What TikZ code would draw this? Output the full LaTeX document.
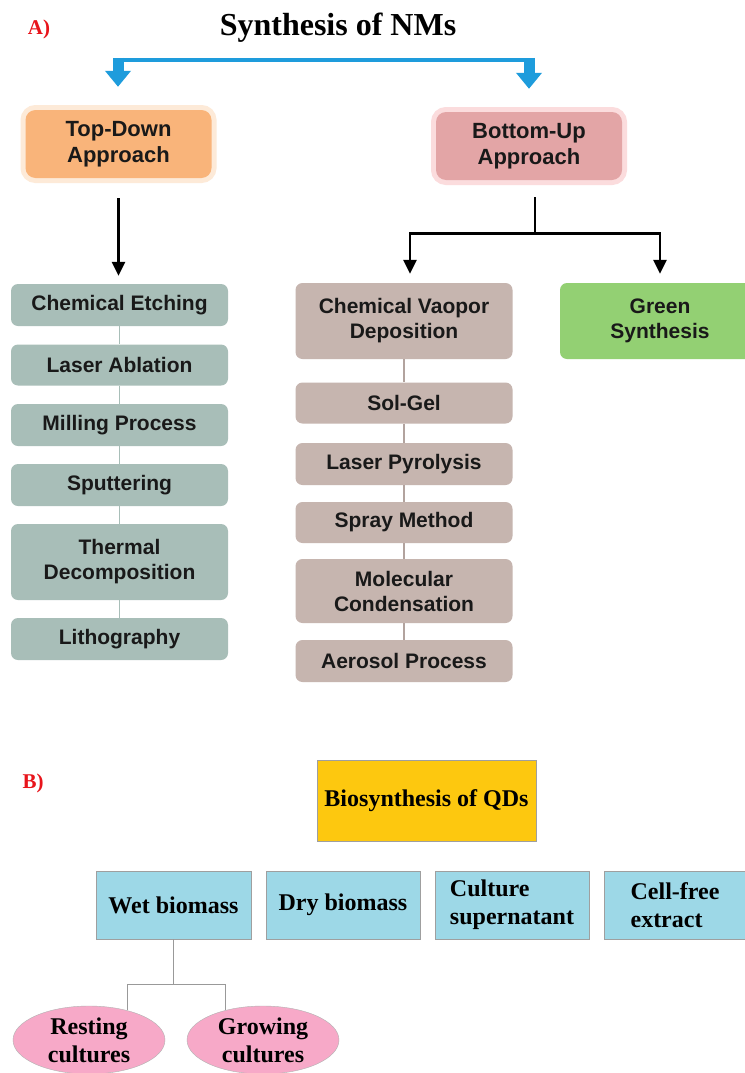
\documentclass[tikz,border=0pt]{standalone}
\usepackage{fontspec}
\setmainfont{Liberation Serif}
\setsansfont{Liberation Sans}
\usetikzlibrary{arrows.meta,shapes.geometric,positioning}
\definecolor{tdorange}{HTML}{F9B47A}
\definecolor{tdglow}{HTML}{FDEAD8}
\definecolor{bupink}{HTML}{E3A5A6}
\definecolor{buglow}{HTML}{FBDCDD}
\definecolor{tdgrey}{HTML}{A8BEB8}
\definecolor{butaupe}{HTML}{C6B5AF}
\definecolor{grsyn}{HTML}{93D073}
\definecolor{nmblue}{HTML}{1E9CDC}
\definecolor{qdgold}{HTML}{FDC80F}
\definecolor{qdcyan}{HTML}{9DD8E7}
\definecolor{qdpink}{HTML}{F7A9C8}
\definecolor{panelred}{HTML}{E8141B}
\tikzset{approach/.style={rounded corners=10pt, minimum width=186pt, minimum height=68pt,
        inner sep=0pt, align=center, text=black!90, font=\sffamily\bfseries\fontsize{22}{26}\selectfont},
    method/.style={rounded corners=7pt, minimum width=217pt, inner sep=0pt, align=center,
        text=black!90, font=\sffamily\bfseries\fontsize{21}{25}\selectfont},
    tdstep/.style={method, fill=tdgrey},
    bustep/.style={method, fill=butaupe},
    blackarrow/.style={line width=2.6pt, -{Triangle[width=13pt,length=14pt]}},
    blackbar/.style={line width=2.6pt},
    blueshaft/.style={line width=11pt, nmblue, -{Triangle[width=25pt,length=16pt]}},
    blueline/.style={line width=4pt, nmblue},
    qdbox/.style={draw=gray!75, line width=0.8pt, minimum height=68pt, inner sep=0pt,
        fill=qdcyan, align=left, font=\bfseries\fontsize{24}{28}\selectfont},
    culture/.style={ellipse, draw=gray!60, fill=qdpink, minimum width=152pt, minimum height=68pt,
        inner sep=0pt, align=center, font=\bfseries\fontsize{24}{28}\selectfont},
    treeline/.style={draw=gray!80, line width=0.8pt},
    panel/.style={text=panelred, font=\bfseries\fontsize{21}{24}\selectfont},
    }

\begin{document}
\begin{tikzpicture}[x=1pt, y=-1pt]
\useasboundingbox[fill=white] (0,0) rectangle (744,1073);

%% A) synthesis of NMs
\node[panel] (pa) at (39,29) {A)};
\node[font=\bfseries\fontsize{32}{36}\selectfont] (title) at (338,28) {Synthesis of NMs};

\node[approach, fill=tdorange, preaction={draw=tdglow, line width=10pt}] (td) at (118.5,144) {Top-Down\\Approach};
\node[approach, fill=bupink, preaction={draw=buglow, line width=10pt}] (bu) at (529,146) {Bottom-Up\\Approach};

\coordinate (barL) at (118,60);
\coordinate (barR) at (529,60);
\draw[blueline] (barL) -- (barR);
\draw[blueshaft, shorten >=23pt] ([yshift=2pt]barL) -- (barL |- td.north);
\draw[blueshaft, shorten >=23pt] ([yshift=2pt]barR) -- (barR |- bu.north);

% top-down methods
\node[tdstep, minimum height=42pt] (ce) at (119.5,305) {Chemical Etching};
\node[tdstep, minimum height=41pt] (la) at (119.5,365) {Laser Ablation};
\node[tdstep, minimum height=42pt] (mp) at (119.5,425) {Milling Process};
\node[tdstep, minimum height=42pt] (sp) at (119.5,485) {Sputtering};
\node[tdstep, minimum height=76pt] (tdc) at (119.5,562) {Thermal\\Decomposition};
\node[tdstep, minimum height=42pt] (li) at (119.5,639) {Lithography};
\foreach \a/\b in {ce/la, la/mp, mp/sp, sp/tdc, tdc/li}
    \draw[tdgrey, line width=1.6pt] (\a.south) -- (\b.north);
\draw[blackarrow, shorten <=20pt, shorten >=8pt] (td.south) -- (td.south |- ce.north);

% bottom-up methods
\node[bustep, minimum height=76pt] (cvd) at (404,321) {Chemical Vaopor\\Deposition};
\node[bustep, minimum height=41pt] (sg) at (404,403) {Sol-Gel};
\node[bustep, minimum height=42pt] (lp) at (404,464) {Laser Pyrolysis};
\node[bustep, minimum height=41pt] (sm) at (404,522.5) {Spray Method};
\node[bustep, minimum height=64pt] (mc) at (404,591) {Molecular\\Condensation};
\node[bustep, minimum height=42pt] (ap) at (404,661) {Aerosol Process};
\node[method, fill=grsyn, minimum width=200pt, minimum height=76pt] (gs) at (660,321) {Green\\Synthesis};
\foreach \a/\b in {cvd/sg, sg/lp, lp/sm, sm/mc, mc/ap}
    \draw[butaupe!90!black, line width=1.6pt] (\a.south) -- (\b.north);
\draw[blackbar, shorten <=17pt] ([xshift=6pt]bu.south) -- ++(0,53) coordinate (bufork);
\draw[blackarrow, shorten >=9pt] (bufork) -| ([xshift=6pt]cvd.north);
\draw[blackarrow, shorten >=9pt] (bufork) -| (gs.north);

%% B) biosynthesis of QDs
\node[panel] (pb) at (33,783) {B)};
\node[qdbox, fill=qdgold, minimum width=219pt, minimum height=81pt] (qd) at (426.5,801) {Biosynthesis of QDs};

\node[qdbox, minimum width=155pt] (wet) at (173.5,905) {Wet biomass};
\node[qdbox, minimum width=154pt] (dry) at (343,905) {Dry biomass};
\node[qdbox, minimum width=154pt] (sup) at (512,905) {Culture\\supernatant};
\node[qdbox, minimum width=142pt] (cfe) at (675,905) {Cell-free\\extract};

\node[culture] (rest) at (89,1040) {Resting\\cultures};
\node[culture] (grow) at (263,1040) {Growing\\cultures};
\draw[treeline] (wet.south) -- ++(0,45) coordinate (wetfork);
\draw[treeline] (rest.38) |- (wetfork) -| (grow.142);
\end{tikzpicture}
\end{document}
